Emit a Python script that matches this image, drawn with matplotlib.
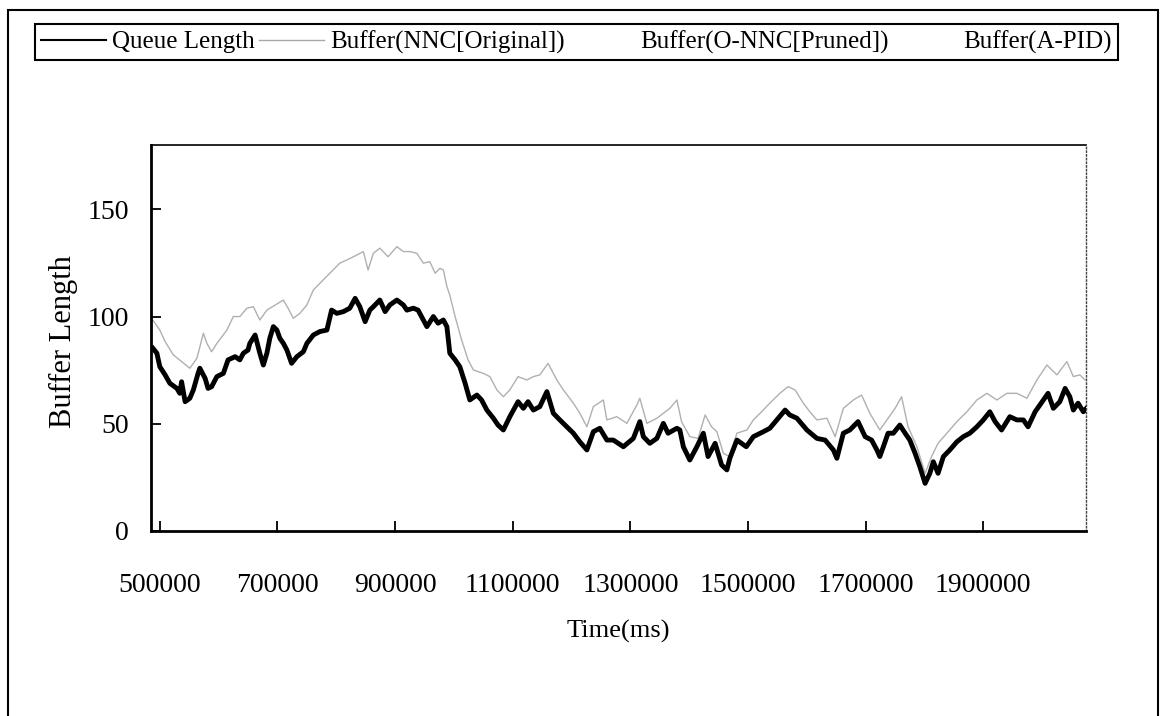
import matplotlib.pyplot as plt
from matplotlib.lines import Line2D
from matplotlib.patches import Rectangle

plt.rcParams['font.family'] = ['Liberation Serif', 'DejaVu Serif']

# Queue Length (time in ms, value)
q_time = [488000, 495000, 500000, 509000, 517000, 529000, 534000, 537000, 543000, 551000,
          557000, 565000, 568000, 577000, 582000, 588000, 597000, 608000, 616000, 628000,
          636000, 642000, 650000, 653000, 662000, 670000, 676000, 682000, 687000, 693000,
          699000, 704000, 710000, 716000, 724000, 733000, 744000, 750000, 761000, 772000,
          784000, 792000, 801000, 812000, 823000, 832000, 840000, 849000, 857000, 863000,
          874000, 883000, 891000, 903000, 914000, 920000, 931000, 939000, 948000, 954000,
          965000, 973000, 982000, 988000, 993000, 1002000, 1010000, 1019000, 1027000, 1039000,
          1047000, 1056000, 1067000, 1075000, 1084000, 1095000, 1109000, 1118000, 1126000, 1135000,
          1146000, 1158000, 1169000, 1180000, 1192000, 1203000, 1214000, 1226000, 1237000, 1248000,
          1260000, 1271000, 1288000, 1305000, 1316000, 1322000, 1333000, 1345000, 1356000, 1364000,
          1379000, 1384000, 1390000, 1401000, 1413000, 1424000, 1432000, 1444000, 1455000, 1464000,
          1469000, 1481000, 1497000, 1509000, 1526000, 1537000, 1549000, 1563000, 1571000, 1583000,
          1600000, 1617000, 1631000, 1645000, 1651000, 1662000, 1673000, 1687000, 1699000, 1710000,
          1719000, 1724000, 1730000, 1738000, 1747000, 1758000, 1767000, 1775000, 1784000, 1792000,
          1801000, 1809000, 1815000, 1823000, 1832000, 1843000, 1855000, 1866000, 1877000, 1889000,
          1900000, 1911000, 1920000, 1931000, 1945000, 1957000, 1968000, 1976000, 1988000, 2002000,
          2010000, 2019000, 2030000, 2039000, 2047000, 2053000, 2061000, 2070000, 2074500]
q_value = [85.3, 82.9, 76.6, 72.8, 68.9, 66.5, 64.2, 69.6, 60.3, 61.9,
           65.8, 73.5, 75.9, 71.2, 66.5, 67.3, 72.0, 73.5, 79.8, 81.3,
           79.8, 82.9, 84.4, 87.5, 91.4, 82.9, 77.4, 82.9, 89.9, 95.3,
           93.7, 89.9, 87.5, 84.4, 78.2, 81.3, 83.6, 87.5, 91.4, 93.0,
           93.7, 103.0, 101.5, 102.3, 103.9, 108.5, 104.6, 97.6, 103.0, 104.6,
           107.7, 102.3, 105.4, 107.7, 105.4, 103.0, 103.9, 103.0, 98.4, 95.3,
           100.0, 96.9, 98.4, 95.3, 82.9, 79.8, 76.6, 68.9, 61.1, 63.4,
           61.1, 56.4, 52.6, 49.4, 47.1, 53.3, 60.3, 57.2, 60.3, 56.4,
           58.0, 65.0, 54.9, 51.8, 48.6, 45.6, 41.6, 37.8, 46.3, 47.9,
           42.4, 42.4, 39.3, 43.2, 51.0, 44.0, 40.9, 43.2, 50.2, 45.6,
           47.9, 47.1, 39.3, 33.1, 39.3, 45.6, 34.7, 40.9, 30.8, 28.5,
           33.9, 42.4, 39.3, 44.0, 46.3, 47.9, 51.8, 56.4, 54.1, 52.6,
           47.1, 43.2, 42.4, 37.8, 33.9, 45.6, 47.1, 51.0, 44.0, 42.4,
           37.8, 34.7, 39.3, 45.6, 45.6, 49.4, 45.6, 42.4, 36.2, 30.0,
           22.2, 26.9, 32.3, 26.9, 34.7, 37.8, 41.6, 44.0, 45.6, 48.6,
           51.8, 55.6, 51.0, 47.1, 53.3, 51.8, 51.8, 48.6, 55.6, 61.1,
           64.2, 57.2, 60.3, 66.5, 62.6, 56.4, 59.6, 55.6, 57.0]

# Buffer(NNC[Original])
nnc_time = [488000, 500000, 509000, 523000, 537000, 551000, 563000, 574000, 580000, 588000,
            597000, 614000, 625000, 636000, 648000, 659000, 670000, 682000, 710000, 718000,
            727000, 738000, 750000, 761000, 775000, 789000, 806000, 818000, 835000, 846000,
            854000, 863000, 874000, 888000, 903000, 914000, 925000, 937000, 948000, 959000,
            968000, 976000, 982000, 988000, 993000, 1002000, 1013000, 1024000, 1033000, 1050000,
            1061000, 1073000, 1084000, 1095000, 1109000, 1124000, 1135000, 1146000, 1160000, 1175000,
            1186000, 1203000, 1214000, 1226000, 1237000, 1254000, 1260000, 1277000, 1294000, 1311000,
            1316000, 1328000, 1345000, 1367000, 1379000, 1387000, 1401000, 1415000, 1427000, 1438000,
            1447000, 1458000, 1469000, 1481000, 1498000, 1509000, 1523000, 1537000, 1554000, 1568000,
            1580000, 1594000, 1605000, 1617000, 1634000, 1648000, 1662000, 1679000, 1693000, 1707000,
            1724000, 1736000, 1750000, 1761000, 1772000, 1787000, 1801000, 1812000, 1823000, 1838000,
            1855000, 1872000, 1889000, 1906000, 1923000, 1940000, 1957000, 1974000, 1991000, 2008000,
            2025000, 2042000, 2053000, 2064000, 2073000]
nnc_value = [98.4, 93.7, 88.3, 82.1, 79.0, 75.9, 80.5, 92.2, 87.5, 83.6,
             87.5, 93.7, 100.0, 100.0, 103.9, 104.6, 98.4, 103.0, 107.7, 103.9,
             99.2, 101.5, 105.4, 112.4, 116.3, 120.2, 124.9, 126.4, 128.7, 130.3,
             121.7, 129.5, 131.9, 127.9, 132.6, 130.3, 130.3, 129.5, 124.9, 125.6,
             120.2, 122.5, 121.7, 114.0, 110.0, 100.0, 89.1, 79.8, 75.1, 73.5,
             72.0, 65.8, 62.6, 65.8, 72.0, 70.4, 72.0, 72.8, 78.2, 70.4,
             65.8, 59.6, 54.9, 48.6, 58.0, 61.1, 51.8, 53.3, 50.2, 58.8,
             61.9, 50.2, 52.6, 57.2, 61.1, 51.0, 44.0, 43.2, 54.1, 48.6,
             46.3, 36.2, 34.7, 45.6, 47.1, 51.8, 55.6, 59.6, 64.2, 67.3,
             65.8, 59.6, 55.6, 51.8, 52.6, 44.0, 57.2, 61.1, 63.4, 54.9,
             47.1, 51.8, 57.2, 62.6, 48.6, 39.3, 26.9, 34.7, 40.9, 45.6,
             51.0, 55.6, 61.1, 64.2, 61.1, 64.2, 64.2, 61.9, 70.4, 77.4,
             72.8, 79.0, 72.0, 72.8, 70.4]

labels = ['Queue Length', 'Buffer(NNC[Original])', 'Buffer(O-NNC[Pruned])', 'Buffer(A-PID)']
x_ticks = [500000, 700000, 900000, 1100000, 1300000, 1500000, 1700000, 1900000]
y_ticks = [0, 50, 100, 150]

W, H = 1162, 716
fig = plt.figure(figsize=(W / 100, H / 100), dpi=100)
ax = fig.add_axes([151 / W, 1 - 531 / H, 935 / W, 386 / H])

ax.plot(nnc_time, nnc_value, color='#b0b0b0', lw=1.0, zorder=2)
ax.plot(q_time, q_value, color='black', lw=3.5, zorder=3)

ax.set_xlim(485000, 2074500)
ax.set_ylim(0, 180)
ax.set_xticks(x_ticks)
ax.set_xticklabels([str(v) for v in x_ticks])
ax.set_yticks(y_ticks)
ax.tick_params(axis='both', direction='in', length=7, width=1.3, labelsize=20)
ax.tick_params(axis='x', pad=30)
ax.tick_params(axis='y', pad=16)

for s in ['left', 'bottom']:
    ax.spines[s].set_linewidth(2)
ax.spines['top'].set_linewidth(1.2)
ax.spines['right'].set_linewidth(1)
ax.spines['right'].set_linestyle(':')
ax.spines['right'].set_color('#444444')

ax.set_xlabel('Time(ms)', fontsize=19)
ax.xaxis.set_label_coords(0.5, -0.231)
ax.set_ylabel('Buffer Length', fontsize=22)
ax.yaxis.set_label_coords(-0.078, 0.49)

handles = [Line2D([], [], color='black', lw=1.5),
           Line2D([], [], color='#a8a8a8', lw=1.0),
           Line2D([], [], color='white', lw=1.0),
           Line2D([], [], color='white', lw=1.0)]
leg = fig.legend(handles, labels, loc='lower left',
                 bbox_to_anchor=(35 / W, 1 - 60 / H, 1083 / W, 33 / H),
                 mode='expand', ncol=4, fontsize=18, frameon=True, fancybox=False,
                 edgecolor='black', framealpha=1, handlelength=2.6, handletextpad=0.25,
                 borderaxespad=0, borderpad=0.25, columnspacing=0.5)
leg.get_frame().set_linewidth(1.5)

fig.add_artist(Rectangle((8 / W, -0.05), 1150 / W, 1.05 - 10 / H, transform=fig.transFigure,
                         fill=False, lw=1.5, edgecolor='black'))

fig.savefig('out.png', dpi=100)
